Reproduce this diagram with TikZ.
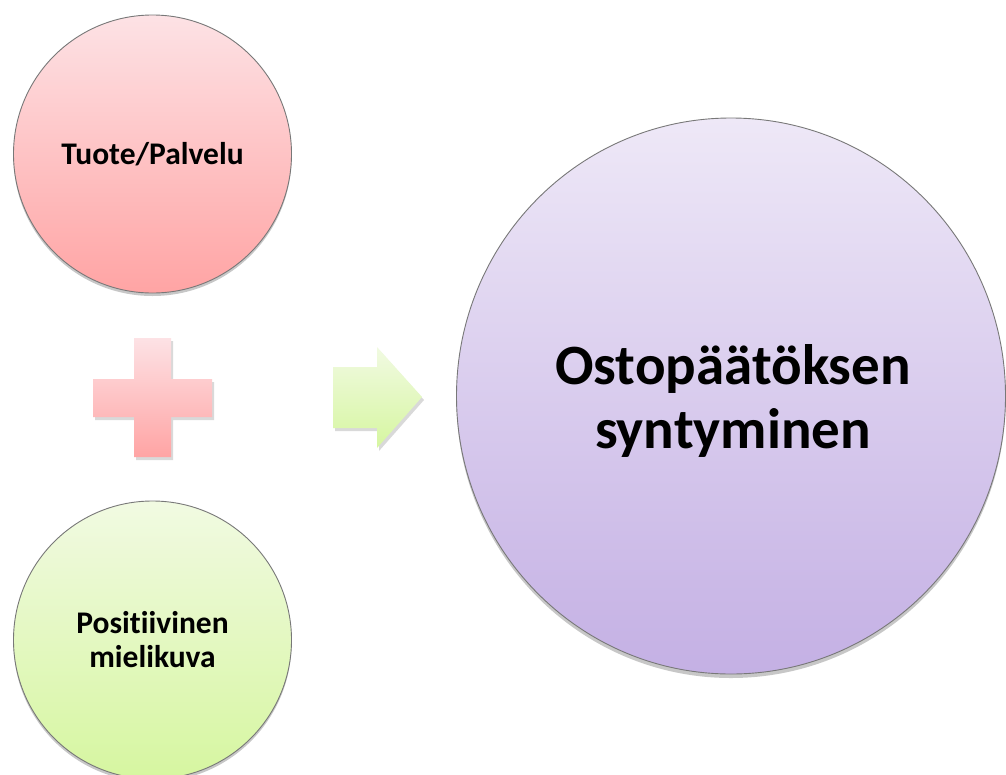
\documentclass[tikz,border=0pt]{standalone}
\usepackage{fontspec}
\setmainfont{Carlito}[Ligatures=NoCommon]
\usetikzlibrary{shapes.geometric,shadows}
\definecolor{pinktop}{RGB}{253,226,229}
\definecolor{pinkbot}{RGB}{255,164,164}
\definecolor{greentop}{RGB}{241,250,226}
\definecolor{greenbot}{RGB}{214,246,160}
\definecolor{lavtop}{RGB}{238,232,247}
\definecolor{lavbot}{RGB}{196,176,228}
\definecolor{edge}{RGB}{120,120,120}
\tikzset{
  bubble/.style={circle, draw=edge, line width=0.9pt, minimum size=278pt, inner sep=0pt,
    align=center, font=\bfseries\fontsize{31.5}{34}\selectfont,
    drop shadow={shadow xshift=0pt, shadow yshift=-3pt, opacity=0.22, fill=black}},
  bigbubble/.style={ellipse, draw=edge, line width=0.9pt, minimum width=549pt, minimum height=556pt,
    inner sep=0pt, align=center, font=\bfseries\fontsize{57}{66}\selectfont,
    drop shadow={shadow xshift=0pt, shadow yshift=-4pt, opacity=0.22, fill=black}},
  softshadow/.style={drop shadow={shadow xshift=2pt, shadow yshift=-3pt, opacity=0.15, fill=black}}
}
\begin{document}
\begin{tikzpicture}[x=1pt,y=-1pt]
\useasboundingbox (0,0) rectangle (1006,774);
\clip (0,0) rectangle (1006,774);
\fill[white] (0,0) rectangle (1006,774);
% circles
\node[bubble, top color=pinktop, bottom color=pinkbot] (tuote) at (152.5,154) {Tuote/Palvelu};
\node[bubble, top color=greentop, bottom color=greenbot] (posit) at (152.5,640) {Positiivinen\\mielikuva};
\node[bigbubble, top color=lavtop, bottom color=lavbot] (osto) at (731,396) {};
\node[font=\bfseries\fontsize{57}{64}\selectfont, align=center] (ostotext) at (733,401) {Ostopäätöksen\\syntyminen};
% plus sign
\shade[top color=pinktop, bottom color=pinkbot, softshadow]
  (134,338) -- (171,338) -- (171,379) -- (212,379) -- (212,417) -- (171,417)
  -- (171,457) -- (134,457) -- (134,417) -- (93,417) -- (93,379) -- (134,379) -- cycle;
% arrow
\shade[top color=greentop, bottom color=greenbot, softshadow]
  (333,367) -- (377,367) -- (377,347) -- (422,397) -- (377,448) -- (377,428) -- (333,428) -- cycle;
\end{tikzpicture}
\end{document}
